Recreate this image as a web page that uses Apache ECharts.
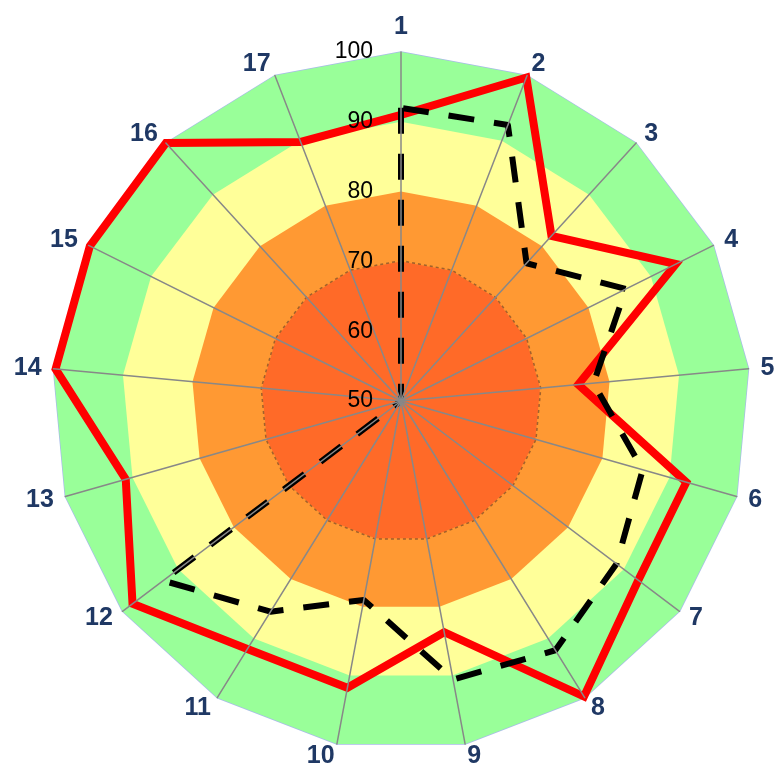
<!DOCTYPE html>
<html>
<head>
<meta charset="utf-8">
<script src="https://cdn.jsdelivr.net/npm/echarts@6/dist/echarts.min.js"></script>
<style>
html,body{margin:0;padding:0;background:#fff;}
#chart{width:778px;height:773px;}
</style>
</head>
<body>
<div id="chart"></div>
<script>
// categories (clockwise from top)
const categories = ['1','2','3','4','5','6','7','8','9','10','11','12','13','14','15','16','17'];
// red solid series
const redValues = [91, 99.7, 82, 94, 75.5, 92.5, 92.6, 99.8, 83.7, 91.8, 91.8, 98.2, 91, 99.7, 99.8, 100, 89.8];
// black dashed series
const blackValues = [92, 92.4, 76.7, 86, 77.7, 86, 88.7, 92, 90.6, 79, 85.5, 92.7, 50, 50, 50, 50, 50];
// background bands (outer edge of each band)
const bandLevels = [100, 90, 80, 70];
const bandColors = ['#99FF99', '#FFFF99', '#FF9933', '#FF6A28'];
const axisMin = 50, axisMax = 100, axisInterval = 10;

// ECharts radar goes counter-clockwise; reorder so categories run clockwise
const order = [0];
for (let i = categories.length - 1; i >= 1; i--) order.push(i);
const reorder = arr => order.map(i => arr[i]);

const indicator = order.map((i, k) => ({
  name: categories[i], min: axisMin, max: axisMax,
  axisLabel: k === 0 ? { show: true } : { show: false }
}));

const bandSeries = bandLevels.map((lvl, j) => ({
  type: 'radar', z: 1, silent: true, symbol: 'none',
  lineStyle: j === 0 ? { color: '#A8BCE8', width: 1.5 } :
             (j === 3 ? { color: '#A0622C', width: 3, type: 'dotted' } : { width: 0, opacity: 0 }),
  areaStyle: { color: bandColors[j], opacity: 1 },
  data: [{ value: categories.map(() => lvl) }]
}));

const chart = echarts.init(document.getElementById('chart'), null, { renderer: 'canvas' });
chart.setOption({
  animation: false,
  radar: {
    z: 5,
    center: [401, 401],
    radius: 349,
    startAngle: 90,
    shape: 'polygon',
    splitNumber: 5,
    indicator: indicator,
    axisName: {
      color: '#1F3864', fontSize: 25, fontWeight: 'bold', fontFamily: 'Liberation Sans'
    },
    nameGap: 12,
    axisLine: { lineStyle: { color: '#888888', width: 1.5 } },
    splitLine: { show: false },
    splitArea: { show: false },
    axisTick: { show: false },
    axisLabel: {
      show: false, color: '#000', fontSize: 23, fontFamily: 'Liberation Sans',
      margin: 28
    }
  },
  series: bandSeries.concat([
    {
      type: 'radar', z: 3, symbol: 'none',
      lineStyle: { color: '#FF0000', width: 8, join: 'miter' },
      data: [{ value: reorder(redValues) }]
    },
    {
      type: 'radar', z: 3, symbol: 'none',
      lineStyle: { color: '#000000', width: 6, type: [26, 20] },
      data: [{ value: reorder(blackValues) }]
    }
  ])
});
</script>
</body>
</html>
